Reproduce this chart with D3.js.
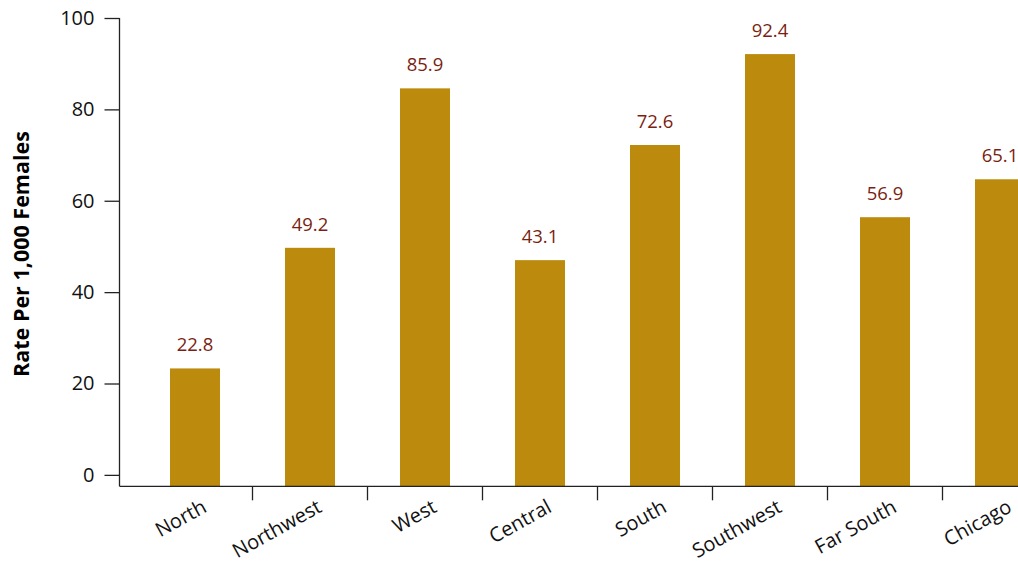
<!DOCTYPE html>
<html>
<head>
<meta charset="utf-8">
<script src="https://cdn.jsdelivr.net/npm/d3@7"></script>
<style>
  html, body { margin: 0; padding: 0; background: #fff; }
  svg { display: block; }
</style>
</head>
<body>
<svg id="chart" width="1018" height="567"></svg>
<script>
// Data
const categories = ["North", "Northwest", "West", "Central", "South", "Southwest", "Far South", "Chicago"];
const barValues = [23.3, 49.7, 84.6, 47.0, 72.2, 92.1, 56.4, 64.7];
const labelTexts = ["22.8", "49.2", "85.9", "43.1", "72.6", "92.4", "56.9", "65.1"];
const yTicks = [0, 20, 40, 60, 80, 100];
const yTitle = "Rate Per 1,000 Females";

const W = 1018, H = 567;
const svg = d3.select("#chart");
const font = "'Open Sans', 'Noto Sans', sans-serif";
const axisColor = "#222";

const y = d3.scaleLinear().domain([-2.5, 100]).range([486.3, 18]);
const x = d3.scaleBand().domain(categories).range([137.5, 1057.5])
  .paddingInner(0.565).paddingOuter(0.2825);

const baseY = y(-2.5);

// Bars
svg.append("g").selectAll("rect").data(categories).join("rect")
  .attr("x", d => x(d))
  .attr("width", x.bandwidth())
  .attr("y", (d, i) => y(barValues[i]))
  .attr("height", (d, i) => baseY - y(barValues[i]))
  .attr("fill", "#BC8B0D");

// Value labels
svg.append("g").selectAll("text").data(categories).join("text")
  .attr("x", d => x(d) + x.bandwidth() / 2)
  .attr("y", (d, i) => y(barValues[i]) - 17)
  .attr("text-anchor", "middle")
  .attr("font-family", font)
  .attr("font-size", 18.5)
  .attr("fill", "#7A1F12")
  .text((d, i) => labelTexts[i]);

// Y axis
const yAxis = svg.append("g")
  .attr("transform", "translate(119.5,0)")
  .call(d3.axisLeft(y).tickValues(yTicks).tickSize(15).tickSizeOuter(0).tickPadding(10));
yAxis.select(".domain").attr("stroke", axisColor).attr("stroke-width", 1.3)
  .attr("d", `M0,${y(100)}V${baseY}`);
yAxis.selectAll(".tick line").attr("stroke", axisColor).attr("stroke-width", 1.3);
yAxis.selectAll(".tick text").attr("font-family", font).attr("font-size", 20).attr("fill", "#111");

// X axis
const step = x.step();
const boundaries = categories.slice(0, -1).map(c => x(c) + x.bandwidth() + (step - x.bandwidth()) / 2);
const xAxis = svg.append("g");
xAxis.append("line")
  .attr("x1", 119.5).attr("x2", W)
  .attr("y1", baseY).attr("y2", baseY)
  .attr("stroke", axisColor).attr("stroke-width", 1.3);
xAxis.selectAll("line.tk").data(boundaries).join("line")
  .attr("class", "tk")
  .attr("x1", d => d).attr("x2", d => d)
  .attr("y1", baseY).attr("y2", baseY + 14)
  .attr("stroke", axisColor).attr("stroke-width", 1.3);
xAxis.selectAll("text").data(categories).join("text")
  .attr("transform", d => `translate(${x(d) + x.bandwidth() / 2 + 13},511) rotate(-29)`)
  .attr("text-anchor", "end")
  .attr("font-family", font)
  .attr("font-size", 20)
  .attr("fill", "#111")
  .text(d => d);

// Y title
svg.append("text")
  .attr("transform", `translate(28.5,254) rotate(-90)`)
  .attr("text-anchor", "middle")
  .attr("font-family", font)
  .attr("font-weight", "bold")
  .attr("font-size", 21.5)
  .attr("fill", "#000")
  .text(yTitle);
</script>
</body>
</html>
